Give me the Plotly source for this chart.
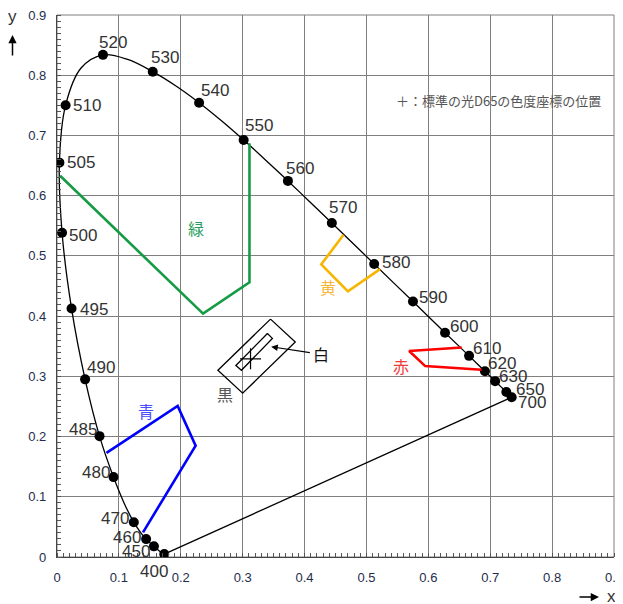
import plotly.graph_objects as go

# CIE 1931 spectral locus (x, y) at 5 nm steps, 400-700 nm
locus_nm = list(range(400, 705, 5))
locus_x = [0.1733, 0.1730, 0.1726, 0.1721, 0.1714, 0.1703, 0.1689, 0.1669, 0.1644, 0.1611,
           0.1566, 0.1510, 0.1440, 0.1355, 0.1241, 0.1096, 0.0913, 0.0687, 0.0454, 0.0235,
           0.0082, 0.0039, 0.0139, 0.0389, 0.0743, 0.1142, 0.1547, 0.1929, 0.2296, 0.2658,
           0.3016, 0.3373, 0.3731, 0.4087, 0.4441, 0.4788, 0.5125, 0.5448, 0.5752, 0.6029,
           0.6270, 0.6482, 0.6658, 0.6801, 0.6915, 0.7006, 0.7079, 0.7140, 0.7190, 0.7230,
           0.7260, 0.7283, 0.7300, 0.7311, 0.7320, 0.7327, 0.7334, 0.7340, 0.7344, 0.7346,
           0.7347]
locus_y = [0.0048, 0.0048, 0.0048, 0.0048, 0.0051, 0.0058, 0.0069, 0.0086, 0.0109, 0.0138,
           0.0177, 0.0227, 0.0297, 0.0399, 0.0578, 0.0868, 0.1327, 0.2007, 0.2950, 0.4127,
           0.5384, 0.6548, 0.7502, 0.8120, 0.8338, 0.8262, 0.8059, 0.7816, 0.7543, 0.7243,
           0.6923, 0.6589, 0.6245, 0.5896, 0.5547, 0.5202, 0.4866, 0.4544, 0.4242, 0.3965,
           0.3725, 0.3514, 0.3340, 0.3197, 0.3083, 0.2993, 0.2920, 0.2859, 0.2809, 0.2770,
           0.2740, 0.2717, 0.2700, 0.2689, 0.2680, 0.2673, 0.2666, 0.2660, 0.2656, 0.2654,
           0.2653]

# Labelled wavelengths (marker points)
mark_nm = [400, 450, 460, 470, 480, 485, 490, 495, 500, 505, 510, 520, 530, 540, 550,
           560, 570, 580, 590, 600, 610, 620, 630, 650, 700]
# label offsets in pixels (dx right, dy down)
label_dx = [-10, -18, -19, -19, -18, -17, 16, 22, 21, 22, 21, 10, 12, 16, 15,
            12, 11, 22, 20, 19, 18, 17, 18, 24, 20]
label_dy = [17, 5, -2, -4, -5, -7, -12, 1, 3, 0, 0, -12, -14, -12, -15,
            -12, -15, -1, -4, -6, -7, -8, -5, -2, 5]

# Colour regions
green_x = [0.005, 0.236, 0.311, 0.311]
green_y = [0.633, 0.404, 0.456, 0.687]
yellow_x = [0.463, 0.427, 0.470, 0.522]
yellow_y = [0.535, 0.486, 0.441, 0.478]
red_x = [0.654, 0.569, 0.595, 0.686]
red_y = [0.348, 0.342, 0.317, 0.311]
blue_x = [0.080, 0.195, 0.224, 0.139]
blue_y = [0.173, 0.251, 0.185, 0.041]
black_x = [0.345, 0.385, 0.300, 0.260, 0.345]
black_y = [0.395, 0.357, 0.272, 0.310, 0.395]
white_x = [0.340, 0.348, 0.298, 0.289, 0.340]
white_y = [0.371, 0.363, 0.310, 0.318, 0.371]
d65 = (0.3127, 0.3290)

region_labels = ["緑", "黄", "赤", "青", "白", "黒"]
region_lx = [0.225, 0.438, 0.556, 0.143, 0.427, 0.271]
region_ly = [0.546, 0.448, 0.317, 0.243, 0.337, 0.271]
region_lc = ["#2a9d5c", "#f5b83d", "#f03c3c", "#4a4aff", "#111111", "#555555"]

# page has an 8px body margin: figure is offset by (8, 8) in the window
OFF = 8
W, H = 623 - OFF, 604 - OFF
L, R, T, B = 57 - OFF, 9, 15 - OFF, 47
pw, ph = W - L - R, H - T - B
def px(xp):
    return (xp - OFF - L) / pw
def py(yp):
    return (H - B - (yp - OFF)) / ph

fig = go.Figure()

# spectral locus
fig.add_trace(go.Scatter(x=locus_x, y=locus_y, mode="lines",
                         line=dict(color="black", width=1.3, shape="spline", smoothing=1.0),
                         hoverinfo="skip"))
# purple line
fig.add_trace(go.Scatter(x=[locus_x[0], locus_x[-1]], y=[locus_y[0], locus_y[-1]], mode="lines",
                         line=dict(color="black", width=1.3), hoverinfo="skip"))

mx = [locus_x[locus_nm.index(n)] for n in mark_nm]
my = [locus_y[locus_nm.index(n)] for n in mark_nm]
fig.add_trace(go.Scatter(x=mx, y=my, mode="markers",
                         marker=dict(color="black", size=10), hoverinfo="skip"))

for xs, ys, c in [(green_x, green_y, "#169b45"), (yellow_x, yellow_y, "#f7b500"),
                  (red_x, red_y, "#ff0000"), (blue_x, blue_y, "#0000ff")]:
    fig.add_trace(go.Scatter(x=xs, y=ys, mode="lines", line=dict(color=c, width=2.6),
                             hoverinfo="skip"))

fig.add_trace(go.Scatter(x=black_x, y=black_y, mode="lines",
                         line=dict(color="black", width=1.3), hoverinfo="skip"))
fig.add_trace(go.Scatter(x=white_x, y=white_y, mode="lines",
                         line=dict(color="black", width=1.3), hoverinfo="skip"))
fig.add_trace(go.Scatter(x=[d65[0]], y=[d65[1]], mode="markers",
                         marker=dict(symbol="cross-thin", size=15,
                                     line=dict(color="black", width=1.2)),
                         hoverinfo="skip"))

annotations = []
for n, x, y, dx, dy in zip(mark_nm, mx, my, label_dx, label_dy):
    annotations.append(dict(x=x, y=y, xref="x", yref="y", text=str(n), showarrow=False,
                            xshift=dx, yshift=-dy, xanchor="center", yanchor="middle",
                            font=dict(family="Liberation Sans", size=17, color="#333333")))
for t, x, y, c in zip(region_labels, region_lx, region_ly, region_lc):
    annotations.append(dict(x=x, y=y, xref="x", yref="y", text=t, showarrow=False,
                            xanchor="center", yanchor="middle",
                            font=dict(family="Noto Sans CJK JP", size=16, color=c)))
# arrow to white region
annotations.append(dict(x=0.346, y=0.349, ax=0.411, ay=0.339, xref="x", yref="y",
                        axref="x", ayref="y", text="", showarrow=True, arrowhead=2,
                        arrowsize=1.2, arrowwidth=1.1, arrowcolor="black"))
# note
annotations.append(dict(x=px(394), y=py(101), xref="paper", yref="paper",
                        text="＋：標準の光D65の色度座標の位置",
                        showarrow=False, xanchor="left", yanchor="middle",
                        font=dict(family="Noto Sans CJK JP", size=13, color="#555555")))

# axis titles
annotations.append(dict(x=px(12.5), y=py(17), xref="paper", yref="paper", text="y", showarrow=False,
                        xanchor="center", yanchor="middle",
                        font=dict(family="Liberation Sans", size=17, color="#333333")))
annotations.append(dict(x=px(12.5), y=py(35), ax=0, ay=22, xref="paper", yref="paper",
                        axref="pixel", ayref="pixel", text="", showarrow=True, arrowhead=2,
                        arrowsize=1.1, arrowwidth=1.5, arrowcolor="black"))
annotations.append(dict(x=px(599), y=py(597), ax=-21, ay=0, xref="paper", yref="paper",
                        axref="pixel", ayref="pixel", text="", showarrow=True, arrowhead=2,
                        arrowsize=1.1, arrowwidth=1.5, arrowcolor="black"))
annotations.append(dict(x=px(611), y=py(597), xref="paper", yref="paper", text="x", showarrow=False,
                        xanchor="center", yanchor="middle",
                        font=dict(family="Liberation Sans", size=17, color="#333333")))

ticks = [0, 0.1, 0.2, 0.3, 0.4, 0.5, 0.6, 0.7, 0.8, 0.9]
tick_text = ["0", "0.1", "0.2", "0.3", "0.4", "0.5", "0.6", "0.7", "0.8", "0.9"]

axis_common = dict(range=[0, 0.9], tickvals=ticks, ticktext=tick_text, showgrid=True,
                   gridcolor="#7f7f7f", gridwidth=1, zeroline=False, showline=True,
                   linecolor="#444444", linewidth=1.2, ticks="", automargin=False,
                   ticklabeloverflow="allow",
                   tickfont=dict(family="Liberation Sans", size=13, color="#1f2d4d"),
                   minor=dict(dtick=0.01, ticks="inside", ticklen=4, tickcolor="#555555",
                              showgrid=False, tick0=0))

fig.update_layout(
    width=W, height=H, margin=dict(l=L, r=R, t=T, b=B, autoexpand=False),
    paper_bgcolor="white", plot_bgcolor="white", showlegend=False,
    xaxis=dict(**axis_common, ticklabelstandoff=8),
    yaxis=dict(**axis_common, ticklabelstandoff=7),
    annotations=annotations,
    shapes=[dict(type="rect", xref="paper", yref="paper", x0=0, y0=0, x1=1, y1=1,
                 line=dict(color="#7f7f7f", width=1), layer="below")],
)
fig.write_html("out.html")
